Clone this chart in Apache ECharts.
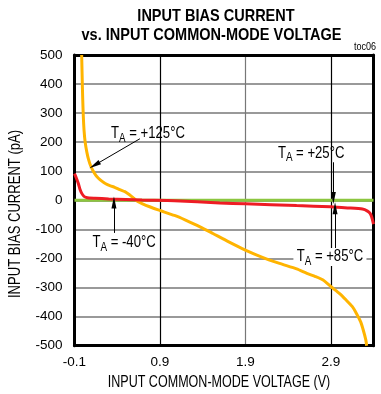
<!DOCTYPE html>
<html>
<head>
<meta charset="utf-8">
<script src="https://cdn.jsdelivr.net/npm/echarts@6/dist/echarts.min.js"></script>
<style>
  html, body { margin: 0; padding: 0; background: #fff; }
  #main { width: 381px; height: 394px; }
</style>
</head>
<body>
<div id="main"></div>
<script type="text/javascript">
    var FONT = '"Liberation Sans", Arial, sans-serif';
    var NARROW = 0.82; // 原图字体较窄

    // 数据 (V, pA)
    var v125 = [-0.016, -0.01, -0.004, 0.003, 0.012, 0.025, 0.045, 0.065, 0.09, 0.12, 0.15, 0.18, 0.22, 0.26, 0.32, 0.37, 0.43, 0.49, 0.54, 0.59, 0.64, 0.69, 0.78, 0.88, 1.07, 1.2, 1.37, 1.52, 1.7, 1.9, 2.1, 2.3, 2.5, 2.62, 2.72, 2.81, 2.91, 3.0, 3.08, 3.15, 3.2, 3.25, 3.28, 3.31, 3.32];
    var i125 = [500, 420, 350, 290, 240, 200, 165, 140, 118, 100, 86, 76, 66, 58, 50, 45, 37, 30, 20, 8, -4, -11, -22, -33, -52, -68, -91, -114, -142, -171, -196, -217, -236, -251, -262, -274, -299, -320, -343, -365, -389, -418, -446, -480, -500];

    var v85 = [-0.1, -0.08, -0.055, -0.036, -0.015, 0.01, 0.035, 0.07, 0.14, 0.3, 0.5, 0.69, 1.07, 1.6, 1.9, 2.5, 2.9, 3.1, 3.27, 3.33, 3.36, 3.38, 3.4];
    var i85 = [92, 78, 58, 38, 24, 14, 10, 8, 7, 5, 3, 1, -1, -9, -12, -18, -22, -26, -30, -37, -45, -58, -82];

    var v25 = [-0.1, 3.4];
    var i25 = [0, 0];

    var yTicks = [500, 400, 300, 200, 100, 0, -100, -200, -300, -400, -500];

    // 标注 (数据坐标)
    var labelText = ['+125°C', '+25°C', '-40°C', '+85°C'];
    var labelPos = [[0.76, 228], [2.67, 162], [0.48, -147], [2.89, -195]];
    var arrowFrom = [[0.666, 212], [2.93, 131], [0.362, -112], [2.95, -171]];
    var arrowTo = [[0.135, 121], [2.93, 8], [0.362, -7], [2.95, -27]];

    function pairs(xs, ys) {
        var out = [];
        for (var i = 0; i < xs.length; i++) out.push([xs[i], ys[i]]);
        return out;
    }

    var arrows = [];
    for (var k = 0; k < arrowFrom.length; k++) {
        arrows.push([{coord: arrowFrom[k]}, {coord: arrowTo[k]}]);
    }

    var myChart = echarts.init(document.getElementById('main'), null, {renderer: 'canvas'});
    var option = {
        animation: false,
        backgroundColor: '#fff',
        grid: {left: 74.5, right: 7.5, top: 55, bottom: 48.3},
        xAxis: [{
            type: 'value',
            min: -0.1,
            max: 3.4,
            interval: 1,
            axisLine: {show: true, onZero: false, lineStyle: {color: '#000', width: 3}},
            axisTick: {show: false},
            splitLine: {show: true, lineStyle: {color: ['#000', '#000', '#777', '#000', '#000'], width: 1.2}},
            axisLabel: {
                showMaxLabel: false,
                margin: 10,
                fontFamily: FONT,
                fontSize: 13.5,
                color: '#000',
                formatter: function (v) { return v.toFixed(1); }
            }
        }, {
            type: 'value',
            position: 'top',
            min: -0.1,
            max: 3.4,
            axisLine: {show: true, onZero: false, lineStyle: {color: '#000', width: 3}},
            axisTick: {show: false},
            axisLabel: {show: false},
            splitLine: {show: false}
        }],
        yAxis: [{
            type: 'value',
            min: -500,
            max: 500,
            interval: 100,
            axisLine: {show: true, onZero: false, lineStyle: {color: '#000', width: 3}},
            axisTick: {show: false},
            splitLine: {show: true, lineStyle: {color: '#777', width: 1.5}},
            axisLabel: {
                margin: 12,
                fontFamily: FONT,
                fontSize: 13.5,
                color: '#000',
                formatter: function (v) { return yTicks.indexOf(v) >= 0 ? String(v) : ''; }
            }
        }, {
            type: 'value',
            position: 'right',
            min: -500,
            max: 500,
            axisLine: {show: true, onZero: false, lineStyle: {color: '#000', width: 3}},
            axisTick: {show: false},
            axisLabel: {show: false},
            splitLine: {show: false}
        }],
        series: [
            {
                name: '+125°C',
                type: 'line',
                data: pairs(v125, i125),
                showSymbol: false,
                smooth: 0.2,
                lineStyle: {color: '#ffb400', width: 3},
                z: 3
            },
            {
                name: '+85°C',
                type: 'line',
                data: pairs(v85, i85),
                showSymbol: false,
                smooth: 0.2,
                lineStyle: {color: '#ee1c24', width: 3},
                z: 4
            },
            {
                name: '+25°C',
                type: 'line',
                data: pairs(v25, i25),
                showSymbol: false,
                lineStyle: {color: '#8cc63f', width: 3},
                z: 2,
                markLine: {
                    silent: true,
                    symbol: ['none', 'triangle'],
                    symbolSize: [5, 12],
                    label: {show: false},
                    lineStyle: {color: '#000', width: 1, type: 'solid'},
                    emphasis: {disabled: true},
                    data: arrows
                }
            }
        ]
    };
    myChart.setOption(option);

    function narrowText(txt, x, y, size, opts) {
        opts = opts || {};
        return {
            type: 'text',
            x: x,
            y: y,
            scaleX: opts.scale || NARROW,
            rotation: opts.rotation || 0,
            z: 100,
            style: {
                text: txt,
                fontFamily: FONT,
                fontSize: size,
                fontWeight: opts.bold ? 'bold' : 'normal',
                fill: '#000',
                align: opts.align || 'center',
                verticalAlign: 'middle'
            }
        };
    }

    var graphics = [];
    // 标题
    graphics.push(narrowText('INPUT BIAS CURRENT', 216, 16, 16.5, {bold: true, scale: 0.88}));
    graphics.push(narrowText('vs. INPUT COMMON-MODE VOLTAGE', 211.5, 35, 16.5, {bold: true, scale: 0.88}));
    graphics.push(narrowText('toc06', 376, 47, 11, {align: 'right'}));
    // 坐标轴名称
    graphics.push(narrowText('INPUT COMMON-MODE VOLTAGE (V)', 219, 382, 16.5, {scale: 0.76}));
    graphics.push(narrowText('INPUT BIAS CURRENT (pA)', 15, 214, 16.5, {rotation: Math.PI / 2, scale: 0.79}));

    // 文字标注
    for (var j = 0; j < labelText.length; j++) {
        var p = myChart.convertToPixel({xAxisIndex: 0, yAxisIndex: 0}, labelPos[j]);
        graphics.push({
            type: 'text',
            x: p[0],
            y: p[1],
            scaleX: NARROW,
            z: 100,
            style: {
                text: '{b|T}{s|A}{b| = ' + labelText[j] + '}',
                align: 'center',
                verticalAlign: 'middle',
                backgroundColor: j === 3 ? '#fff' : 'transparent',
                padding: j === 3 ? [0, 4] : 0,
                rich: {
                    b: {fontFamily: FONT, fontSize: 16, color: '#000', lineHeight: 18},
                    s: {fontFamily: FONT, fontSize: 12, color: '#000', lineHeight: 18, padding: [9, 0, 0, 0]}
                }
            }
        });
    }
    myChart.setOption({graphic: graphics});
</script>
</body>
</html>
